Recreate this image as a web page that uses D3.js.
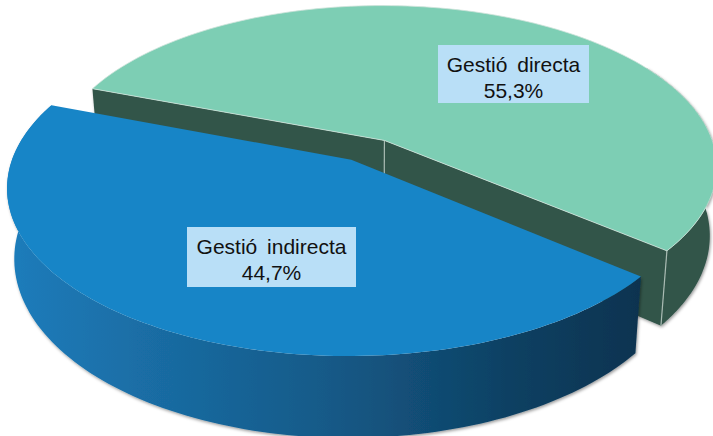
<!DOCTYPE html>
<html>
<head>
<meta charset="utf-8">
<script src="https://cdn.jsdelivr.net/npm/d3@7"></script>
<style>
  html, body { margin: 0; padding: 0; background: #fff; overflow: hidden; }
  svg { display: block; }
  text { font-family: "Liberation Sans", Arial, sans-serif; font-size: 21px; fill: #111; }
</style>
</head>
<body>
<div id="chart"></div>
<script>
const categories = ['Gestió directa', 'Gestió indirecta'];
const shares = [55.3, 44.7];
const shareLabels = ['55,3%', '44,7%'];

const width = 713;
const height = 436;

// view of the disc: centre, half axes, perspective, thickness
const ox = 368, oy = 150, a = 331, b = 159, p = 0.158;
const explodeX = 0.1, explodeY = 0.07, depth = 68, shrink = 0.98;
// the nearer slice reads slightly larger
const radii = [1, 1.015];

const deg = Math.PI / 180;

const svg = d3.select('#chart').append('svg')
  .attr('width', width)
  .attr('height', height)
  .attr('viewBox', `0 0 ${width} ${height}`);

const defs = svg.append('defs');

const grad = defs.append('linearGradient')
  .attr('id', 'rim')
  .attr('gradientUnits', 'userSpaceOnUse')
  .attr('x1', 10).attr('x2', 640).attr('y1', 0).attr('y2', 0);
[[0, '#1a7cbb'], [0.2, '#1a6ea6'], [0.5, '#155a88'], [0.8, '#0e4062'], [1, '#0a3350']]
  .forEach(([o, c]) => grad.append('stop').attr('offset', o).attr('stop-color', c));

const shadow = defs.append('filter').attr('id', 'shadow')
  .attr('x', '-10%').attr('y', '-10%').attr('width', '120%').attr('height', '120%');
shadow.append('feDropShadow')
  .attr('dx', 1).attr('dy', 1.5).attr('stdDeviation', 1.8)
  .attr('flood-color', '#000').attr('flood-opacity', 0.4);

const slices = d3.pie().sort(null)
  .startAngle(-69.5 * deg)
  .endAngle(290.5 * deg)(shares);

// unit disc -> screen, with the slice pushed out along its bisector
function project(d, angle, r, lower) {
  const mid = (d.startAngle + d.endAngle) / 2;
  const rr = r * radii[d.index];
  const u = rr * Math.sin(angle) + explodeX * Math.sin(mid);
  const v = rr * Math.cos(angle) + explodeY * Math.cos(mid);
  const s = 1 / (1 + p * v);
  let x = ox + a * u * s;
  let y = oy - b * v * s;
  if (lower) {
    x = ox + (x - ox) * shrink;
    y += depth * s;
  }
  return [x, y];
}

const line = d3.line();

function arcPoints(d, from, to, lower) {
  return d3.range(0, 121).map(i => project(d, from + (to - from) * i / 120, 1, lower));
}

const [green, blue] = slices;
const colors = ['#7dceb4', '#1785c7'];
const wall = '#33544a';

const back = svg.append('g').attr('filter', 'url(#shadow)');

// green outer rim, only the part turned to the viewer
back.append('path')
  .attr('d', line([
    ...arcPoints(green, 60 * deg, green.endAngle, false),
    ...arcPoints(green, green.endAngle, 60 * deg, true)
  ]) + 'Z')
  .attr('fill', wall);

// green cut faces
[green.startAngle, green.endAngle].forEach(angle => {
  back.append('path')
    .attr('d', line([
      project(green, 0, 0, false),
      project(green, angle, 1, false),
      project(green, angle, 1, true),
      project(green, 0, 0, true)
    ]) + 'Z')
    .attr('fill', wall);
});

// light vertical seams
[[0, 0], [green.endAngle, 1]].forEach(([angle, r]) => {
  svg.append('line')
    .attr('x1', project(green, angle, r, false)[0])
    .attr('y1', project(green, angle, r, false)[1])
    .attr('x2', project(green, angle, r, true)[0])
    .attr('y2', project(green, angle, r, true)[1])
    .attr('stroke', '#a9bbb3')
    .attr('stroke-width', 1.2);
});

// green top
svg.append('path')
  .attr('d', line([
    project(green, 0, 0, false),
    ...arcPoints(green, green.startAngle, green.endAngle, false)
  ]) + 'Z')
  .attr('fill', colors[0])
  .attr('stroke', '#cfe3da')
  .attr('stroke-width', 0.8);

// blue rim
svg.append('path')
  .attr('d', line([
    ...arcPoints(blue, blue.startAngle, blue.endAngle, false),
    ...arcPoints(blue, blue.endAngle, blue.startAngle, true)
  ]) + 'Z')
  .attr('fill', 'url(#rim)')
  .attr('filter', 'url(#shadow)');

// blue top
svg.append('path')
  .attr('d', line([
    project(blue, 0, 0, false),
    ...arcPoints(blue, blue.startAngle, blue.endAngle, false)
  ]) + 'Z')
  .attr('fill', colors[1]);

// labels
const labelBoxes = [
  { x: 438, y: 45, w: 151, h: 58 },
  { x: 187, y: 227, w: 169, h: 60 }
];

labelBoxes.forEach((box, i) => {
  const g = svg.append('g');
  g.append('rect')
    .attr('x', box.x).attr('y', box.y)
    .attr('width', box.w).attr('height', box.h)
    .attr('fill', '#b9dff7');
  g.append('text')
    .attr('x', box.x + box.w / 2)
    .attr('y', box.y + 26.5)
    .attr('text-anchor', 'middle')
    .attr('word-spacing', '4px')
    .text(categories[i]);
  g.append('text')
    .attr('x', box.x + box.w / 2)
    .attr('y', box.y + 52.5)
    .attr('text-anchor', 'middle')
    .text(shareLabels[i]);
});
</script>
</body>
</html>
